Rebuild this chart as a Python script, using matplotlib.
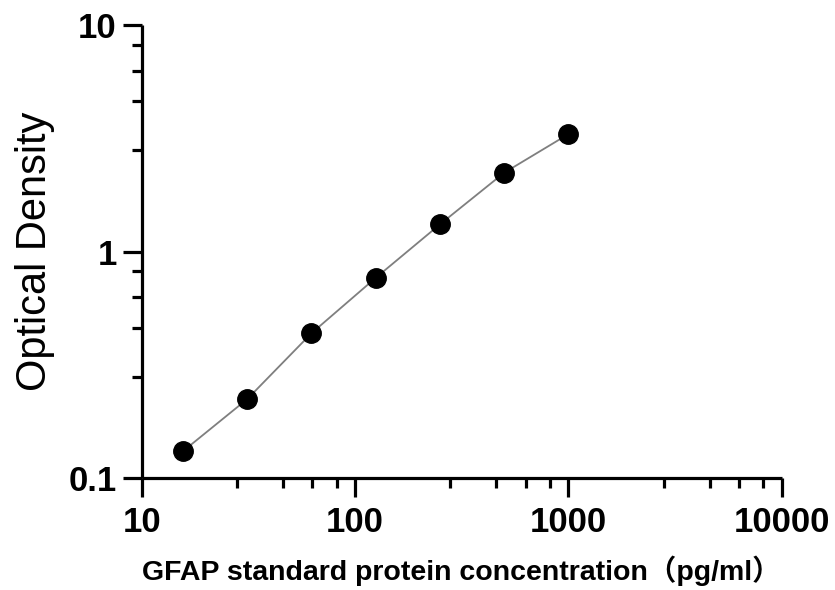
import matplotlib
matplotlib.use("Agg")
import matplotlib.pyplot as plt
from matplotlib.ticker import FixedLocator, FixedFormatter, NullFormatter
import numpy as np

concentration = [15.625, 31.25, 62.5, 125, 250, 500, 1000]
optical_density = [0.132, 0.224, 0.437, 0.767, 1.32, 2.23, 3.30]
x_ticks = [10, 100, 1000, 10000]
x_tick_labels = ["10", "100", "1000", "10000"]
y_ticks = [0.1, 1, 10]
y_tick_labels = ["0.1", "1", "10"]
minor_steps = [2.8, 4.6, 6.3, 8.2]

plt.rcParams['font.family'] = ['Liberation Sans', 'Noto Sans CJK SC', 'DejaVu Sans']

fig = plt.figure(figsize=(8.35, 5.9), dpi=100)
ax = fig.add_axes([0.1697, 0.189, 0.7664, 0.7686])

ax.plot(concentration, optical_density, color='#7f7f7f', lw=1.3, zorder=2,
        marker='o', markersize=14, markerfacecolor='black', markeredgecolor='black')

ax.set_xscale('log')
ax.set_yscale('log')
ax.set_xlim(10, 10000)
ax.set_ylim(0.1, 10)

ax.xaxis.set_major_locator(FixedLocator(x_ticks))
ax.xaxis.set_major_formatter(FixedFormatter(x_tick_labels))
ax.yaxis.set_major_locator(FixedLocator(y_ticks))
ax.yaxis.set_major_formatter(FixedFormatter(y_tick_labels))

xmin = [d * m for d in [10, 100, 1000] for m in minor_steps]
ymin = [d * m for d in [0.1, 1] for m in minor_steps]
ax.xaxis.set_minor_locator(FixedLocator(xmin))
ax.yaxis.set_minor_locator(FixedLocator(ymin))
ax.xaxis.set_minor_formatter(NullFormatter())
ax.yaxis.set_minor_formatter(NullFormatter())

for s in ['top', 'right']:
    ax.spines[s].set_visible(False)
for s in ['left', 'bottom']:
    ax.spines[s].set_linewidth(2.3)
    ax.spines[s].set_capstyle('butt')

ax.tick_params(which='major', length=14, width=2.3, direction='out',
               labelsize=25)
ax.tick_params(axis='x', which='major', pad=6)
ax.tick_params(axis='y', which='major', pad=4)
ax.tick_params(which='minor', length=7.5, width=2.3, direction='out')
for lab in ax.get_xticklabels() + ax.get_yticklabels():
    lab.set_fontweight('bold')

ax.set_ylabel('Optical Density', fontsize=30, labelpad=10)
fig.text(0.553, 1 - 571 / 590, 'GFAP standard protein concentration（pg/ml）',
         fontsize=20.5, fontweight='bold', ha='center', va='center')

fig.savefig('out.png', dpi=100)
